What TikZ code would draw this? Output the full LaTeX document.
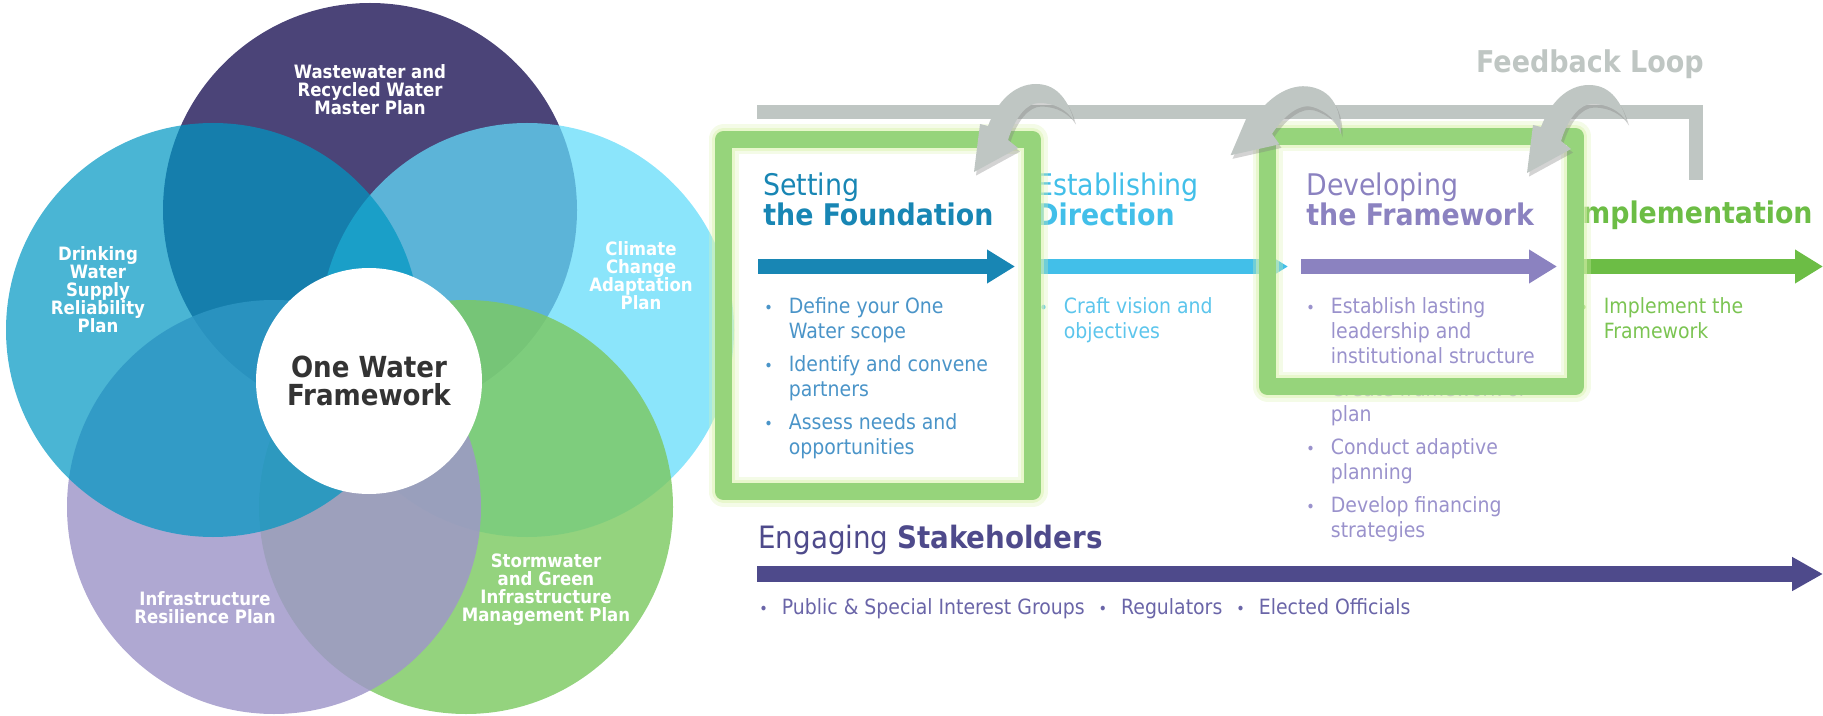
\documentclass[tikz,border=0pt]{standalone}
\usepackage{fontspec}
\setmainfont{DejaVu Sans Condensed}
\usetikzlibrary{arrows.meta,shadows}

\definecolor{wastec}{HTML}{4B4478}
\definecolor{drinkc}{RGB}{0,151,194}
\definecolor{climc}{RGB}{99,220,250}
\definecolor{infrac}{RGB}{159,150,201}
\definecolor{stormc}{RGB}{124,201,98}
\definecolor{owtext}{HTML}{333333}
\definecolor{fgray}{HTML}{BFC6C3}
\definecolor{boxgreen}{HTML}{96D47B}
\definecolor{glowc}{HTML}{DCF2B0}
\definecolor{foundc}{HTML}{1886B4}
\definecolor{foundt}{HTML}{4A94C8}
\definecolor{dirc}{HTML}{42BFE9}
\definecolor{dirt}{HTML}{5CC5EC}
\definecolor{framec}{HTML}{8B82C0}
\definecolor{framet}{HTML}{9A92CC}
\definecolor{implc}{HTML}{6CBD45}
\definecolor{implt}{HTML}{7BC452}
\definecolor{stakec}{HTML}{4E4A8B}
\definecolor{staket}{HTML}{6A65A8}

\newcommand{\bul}{{\fontsize{8}{8}\selectfont •}}

\begin{document}
\begin{tikzpicture}
  [x=0.5pt,y=-0.5pt,
   venn/.style={text=white,font=\fontsize{9.2}{9}\selectfont\bfseries,align=center,inner sep=0pt},
   phasehead/.style={font=\fontsize{14.9}{15}\selectfont,align=left,anchor=west,inner sep=0pt},
   blist/.style={font=\fontsize{10.5}{12.5}\selectfont,anchor=north west,inner sep=0pt},
   bar/.style={line width=7.5pt,-{Triangle[length=14pt,width=16pt]}},
   phasebox/.style={draw=boxgreen,line width=8.5pt,line join=round,inner sep=0pt,
     preaction={draw=glowc,line width=15pt,opacity=.3},
     preaction={draw=glowc,line width=11.5pt,opacity=.5}},
   loopy/.style={fill=fgray,drop shadow={shadow xshift=1pt,shadow yshift=-1.8pt,opacity=.35}}]
  \useasboundingbox (0,0) rectangle (1823,716);

  % the five plans
  \coordinate (cwaste) at (370,210);
  \coordinate (cclim) at (527,330);
  \coordinate (cstorm) at (466,507);
  \coordinate (cinfra) at (274,507);
  \coordinate (cdrink) at (213,330);
  \fill[wastec] (cwaste) circle[radius=103.5pt];
  \fill[climc,fill opacity=.74] (cclim) circle[radius=103.5pt];
  \fill[stormc,fill opacity=.82] (cstorm) circle[radius=103.5pt];
  \fill[infrac,fill opacity=.83] (cinfra) circle[radius=103.5pt];
  \fill[drinkc,fill opacity=.71] (cdrink) circle[radius=103.5pt];
  \node[circle,fill=white,minimum size=113pt,inner sep=0pt,text=owtext,
    font=\fontsize{14.5}{14}\selectfont\bfseries,align=center] (onewater) at (369,381) {One Water\\Framework};

  \node[venn] (lwaste) at (370,90) {Wastewater and\\Recycled Water\\Master Plan};
  \node[venn] (ldrink) at (98,290) {Drinking\\Water\\Supply\\Reliability\\Plan};
  \node[venn] (lclim) at (641,276) {Climate\\Change\\Adaptation\\Plan};
  \node[venn] (linfra) at (205,608) {Infrastructure\\Resilience Plan};
  \node[venn] (lstorm) at (546,590) {Stormwater\\and Green\\Infrastructure\\Management Plan};

  % feedback loop
  \coordinate (fbl) at (757,112);
  \coordinate (fbc) at (1696,112);
  \coordinate (fbe) at (1696,180);
  \draw[fgray,line width=7pt] (fbl) -- (fbc) -- (fbe);
  \node[text=fgray,font=\fontsize{15}{15}\selectfont\bfseries,inner sep=0pt] (fbloop) at (1590,64) {Feedback Loop};

  % phases
  \node[phasehead,text=foundc] (hfound) at (763,199) {Setting\\\textbf{the Foundation}};
  \node[phasehead,text=dirc] (hdir) at (1036,199) {Establishing\\\textbf{Direction}};
  \node[phasehead,text=framec] (hframe) at (1306,199) {Developing\\\textbf{the Framework}};
  \node[phasehead,text=implc,anchor=base west] (himpl) at (1572,224) {\textbf{Implementation}};

  \coordinate (a1s) at (758,266.5);
  \coordinate (a1e) at (1015,266.5);
  \coordinate (a2s) at (1030,266.5);
  \coordinate (a2e) at (1288,266.5);
  \coordinate (a3s) at (1301,266.5);
  \coordinate (a3e) at (1557,266.5);
  \coordinate (a4s) at (1575,266.5);
  \coordinate (a4e) at (1823,266.5);
  \draw[bar,foundc] (a1s) -- (a1e);
  \draw[bar,dirc] (a2s) -- (a2e);
  \draw[bar,framec] (a3s) -- (a3e);
  \draw[bar,implc] (a4s) -- (a4e);

  \node[blist,text=foundt] (lfound) at (764,295.5) {\begin{tabular}{@{}l@{\hspace{8pt}}l@{}}
    \bul & Define your One\\ & Water scope\\[4pt]
    \bul & Identify and convene\\ & partners\\[4pt]
    \bul & Assess needs and\\ & opportunities\end{tabular}};
  \node[blist,text=dirt] (ldir) at (1039,295.5) {\begin{tabular}{@{}l@{\hspace{8pt}}l@{}}
    \bul & Craft vision and\\ & objectives\end{tabular}};
  \node[blist,text=framet] (lframe) at (1306,295.5) {\begin{tabular}{@{}l@{\hspace{8pt}}l@{}}
    \bul & Establish lasting\\ & leadership and\\ & institutional structure\\[4pt]
    \bul & Create framework or\\ & plan\\[4pt]
    \bul & Conduct adaptive\\ & planning\\[4pt]
    \bul & Develop financing\\ & strategies\end{tabular}};
  \node[blist,text=implt] (limpl) at (1579,295.5) {\begin{tabular}{@{}l@{\hspace{8pt}}l@{}}
    \bul & Implement the\\ & Framework\end{tabular}};

  % stakeholders
  \node[phasehead,font=\fontsize{15.4}{15}\selectfont,text=stakec,anchor=base west] (hstake) at (758,548) {Engaging \textbf{Stakeholders}};
  \coordinate (s1) at (757,574);
  \coordinate (s2) at (1823,574);
  \draw[line width=8pt,stakec,-{Triangle[length=15.5pt,width=16pt]}] (s1) -- (s2);
  \node[blist,text=staket,anchor=base west] (lstake) at (759,614) {\bul\hspace{7pt}Public \& Special Interest Groups\hspace{7pt}\bul\hspace{7pt}Regulators\hspace{7pt}\bul\hspace{7pt}Elected Officials};

  % highlighted phases
  \node[phasebox,minimum width=154.5pt,minimum height=176pt] (bfound) at (878,315.5) {};
  \node[phasebox,minimum width=154pt,minimum height=125pt] (bframe) at (1421.5,261.5) {};

  % loop arrows
  \foreach \ax/\ay/\ang in {1036/84/0, 1302/86/-16, 1589/85/0}
    \fill[loopy,shift={(\ax,\ay)},rotate around={\ang:(0,45)}] (38,37) .. controls (31,12) and (18,0) .. (0,0)
      .. controls (-22,0) and (-39,18) .. (-48,42) -- (-56,40) -- (-62,88) -- (-18,64) -- (-28,56)
      .. controls (-21,33) and (-9,19) .. (3,19) .. controls (19,19) and (31,26) .. (38,37) -- cycle;
\end{tikzpicture}
\end{document}
